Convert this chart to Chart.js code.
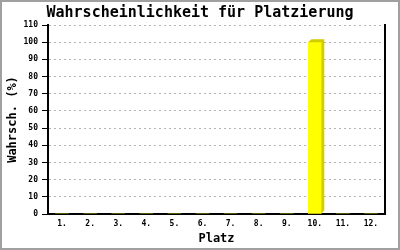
<!DOCTYPE html>
<html>
<head>
<meta charset="utf-8">
<script src="https://cdn.jsdelivr.net/npm/chart.js@4/dist/chart.umd.min.js"></script>
<style>
  html, body { margin: 0; padding: 0; background: #fff; }
  #wrap { position: relative; width: 400px; height: 250px; }
  #frame { position: absolute; left: 0; top: 0; width: 400px; height: 250px;
           box-sizing: border-box; border: 2px solid #a0a0a0; pointer-events: none; }
  canvas { display: block; }
</style>
</head>
<body>
<div id="wrap">
  <canvas id="c" width="400" height="250"></canvas>
  <div id="frame"></div>
</div>
<script>
// Placements 1.–12. and the probability of finishing in each one
const places = ["1.", "2.", "3.", "4.", "5.", "6.", "7.", "8.", "9.", "10.", "11.", "12."];
const probability = [0, 0, 0, 0, 0, 0, 0, 0, 0, 100, 0, 0];
const yTicks = [0, 10, 20, 30, 40, 50, 60, 70, 80, 90, 100, 110];

const titleText = "Wahrscheinlichkeit für Platzierung";
const xTitle = "Platz";
const yTitle = "Wahrsch. (%)";

const mono = "'DejaVu Sans Mono', 'Liberation Mono', monospace";

// Draws the darker top and side faces that give each bar its depth
const barDepth = {
  id: 'barDepth',
  afterDatasetsDraw(chart) {
    const ctx = chart.ctx;
    const d = 3;
    chart.getDatasetMeta(0).data.forEach((bar) => {
      const p = bar.getProps(['x', 'y', 'base', 'width'], true);
      if (Math.abs(p.base - p.y) < 1) return;
      const l = p.x - p.width / 2, r = p.x + p.width / 2;
      const t = Math.min(p.y, p.base), b = Math.max(p.y, p.base);
      ctx.save();
      ctx.fillStyle = '#d2cc00';
      ctx.beginPath();
      ctx.moveTo(l, t); ctx.lineTo(l + d, t - d); ctx.lineTo(r + d, t - d);
      ctx.lineTo(r + d, b - d); ctx.lineTo(r, b); ctx.lineTo(r, t);
      ctx.closePath();
      ctx.fill();
      ctx.restore();
    });
  }
};

new Chart(document.getElementById('c'), {
  type: 'bar',
  data: {
    labels: places,
    datasets: [{
      data: probability,
      backgroundColor: '#ffff00',
      borderWidth: 0,
      barThickness: 13
    }]
  },
  options: {
    responsive: false,
    animation: false,
    layout: { padding: 0 },
    plugins: {
      legend: { display: false },
      tooltip: { enabled: false },
      title: {
        display: true,
        text: titleText,
        color: '#000',
        font: { family: mono, size: 15, weight: 'bold' },
        padding: { top: 4, bottom: 3 }
      }
    },
    scales: {
      x: {
        offset: true,
        grid: { display: false, drawTicks: false },
        border: { display: true, color: '#000', width: 2 },
        ticks: { color: '#000', font: { family: mono, size: 8, weight: 'bold' }, padding: 5, maxRotation: 0, autoSkip: false },
        title: { display: true, text: xTitle, color: '#000', font: { family: mono, size: 12, weight: 'bold' }, padding: { top: 0, bottom: 4 } },
        afterFit(scale) { scale.height = 36; }
      },
      y: {
        min: 0,
        max: 110,
        afterBuildTicks(scale) { scale.ticks = yTicks.map(v => ({ value: v })); },
        grid: { color: '#b4b4b4', lineWidth: 1, tickColor: '#000', tickLength: 6, tickWidth: 1, tickBorderDash: [] },
        border: { display: true, color: '#000', width: 2, dash: [2, 3] },
        ticks: { color: '#000', font: { family: mono, size: 8, weight: 'bold' }, padding: 4 },
        title: { display: true, text: yTitle, color: '#000', font: { family: mono, size: 12, weight: 'bold' }, padding: { top: 6, bottom: 0 } },
        afterFit(scale) { scale.width = 48; }
      },
      yRight: {
        position: 'right',
        min: 0,
        max: 110,
        grid: { display: false, drawTicks: false },
        ticks: { display: false },
        border: { display: true, color: '#000', width: 2 },
        afterFit(scale) { scale.width = 15; }
      }
    }
  },
  plugins: [barDepth]
});
</script>
</body>
</html>
